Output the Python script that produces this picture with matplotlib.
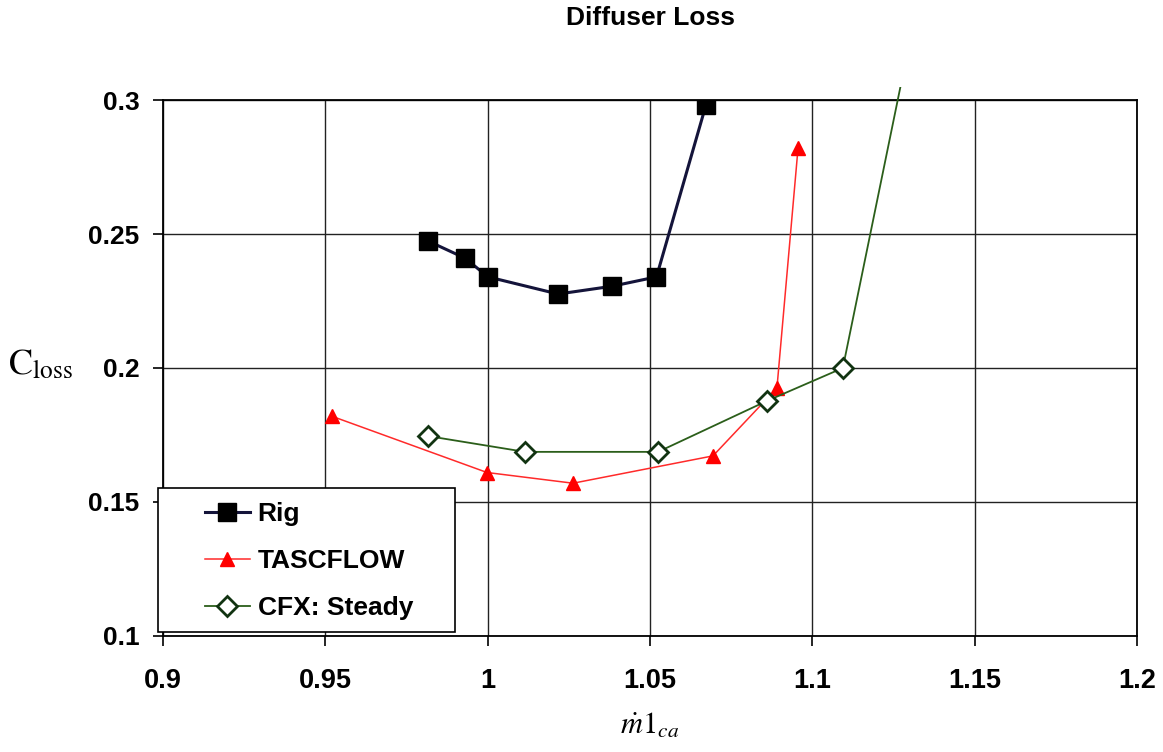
import numpy as np
import matplotlib
matplotlib.use('Agg')
from matplotlib import pyplot as plt
from matplotlib.patches import Rectangle
from matplotlib.transforms import Bbox, TransformedBbox

# values
rig_x = [0.9816, 0.993, 1.0001, 1.0217, 1.0383, 1.052, 1.0672]
rig_y = [0.2474, 0.2410, 0.2340, 0.2276, 0.2305, 0.2340, 0.2980]
tasc_x = [0.952, 0.9998, 1.0263, 1.0694, 1.0891, 1.0956]
tasc_y = [0.1820, 0.1610, 0.1570, 0.1672, 0.1925, 0.2820]
cfx_x = [0.9816, 1.0115, 1.0525, 1.086, 1.1094, 1.128]
cfx_y = [0.1746, 0.1687, 0.1687, 0.1877, 0.2000, 0.3100]

x_ticks = [0.9, 0.95, 1.0, 1.05, 1.1, 1.15, 1.2]
x_labels = ['0.9', '0.95', '1', '1.05', '1.1', '1.15', '1.2']
y_ticks = [0.1, 0.15, 0.2, 0.25, 0.3]
y_labels = ['0.1', '0.15', '0.2', '0.25', '0.3']

plt.rcParams['font.family'] = ['Liberation Sans', 'DejaVu Sans']
plt.rcParams['mathtext.fontset'] = 'stix'

fig = plt.figure(figsize=(11.63, 7.52), dpi=100)
ax = fig.add_axes([0.1402, 0.1543, 0.8374, 0.7127])

ax.plot(rig_x, rig_y, color='#14143a', lw=2.2, marker='s', ms=12.5,
        mfc='black', mec='black', label='Rig', zorder=4)
ax.plot(tasc_x, tasc_y, color='#ff2a2a', lw=1.1, marker='^', ms=10,
        mfc='#ff0000', mec='#ff0000', label='TASCFLOW', zorder=3)
# last CFX point is off the chart, so no marker there
cfx_line, = ax.plot(cfx_x, cfx_y, color='#2b5e1a', lw=1.3, marker='D', ms=10,
                    mfc='white', mec='#113311', mew=2, label='CFX: Steady',
                    markevery=list(range(len(cfx_x) - 1)), zorder=3)
# the CFX line runs a little past the top of the plot area
clip = TransformedBbox(Bbox([[0.0, 0.0], [1.0, 1.025]]), ax.transAxes)
cfx_line.set_clip_box(clip)

ax.set_xlim(0.9, 1.2)
ax.set_ylim(0.1, 0.3)
ax.set_xticks(x_ticks)
ax.set_xticklabels(x_labels, fontsize=19.5, fontweight='bold')
ax.set_yticks(y_ticks)
ax.set_yticklabels(y_labels, fontsize=19, fontweight='bold')
ax.tick_params(direction='out', length=7, width=1.2)
ax.tick_params(axis='y', pad=10)
ax.tick_params(axis='x', pad=16)
ax.grid(True, color='#222222', lw=1.0)
ax.set_axisbelow(True)
for s in ax.spines.values():
    s.set_linewidth(1.3)

fig.text(0.559, 0.976, 'Diffuser Loss', ha='center', va='center',
         fontsize=19, fontweight='bold')
fig.text(0.007, 0.515, r'$\mathrm{C}_{\mathrm{loss}}$', ha='left', va='center', fontsize=26)
fig.text(0.559, 0.035, r'$\dot{m}1_{ca}$', ha='center', va='center', fontsize=22)

# legend box drawn by hand, it is wider than the entries
box = Rectangle((-0.0051, 0.0075), 0.305, 0.2687, transform=ax.transAxes,
                facecolor='white', edgecolor='black', lw=1.2, zorder=6, clip_on=False)
ax.add_patch(box)
leg = ax.legend(loc='center left', bbox_to_anchor=(0.043, 0.140), borderaxespad=0,
                frameon=False, prop={'size': 19, 'weight': 'bold'},
                handlelength=1.7, labelspacing=0.87, borderpad=0, handletextpad=0.3)
leg.set_zorder(7)

fig.savefig('out.png', dpi=100)
